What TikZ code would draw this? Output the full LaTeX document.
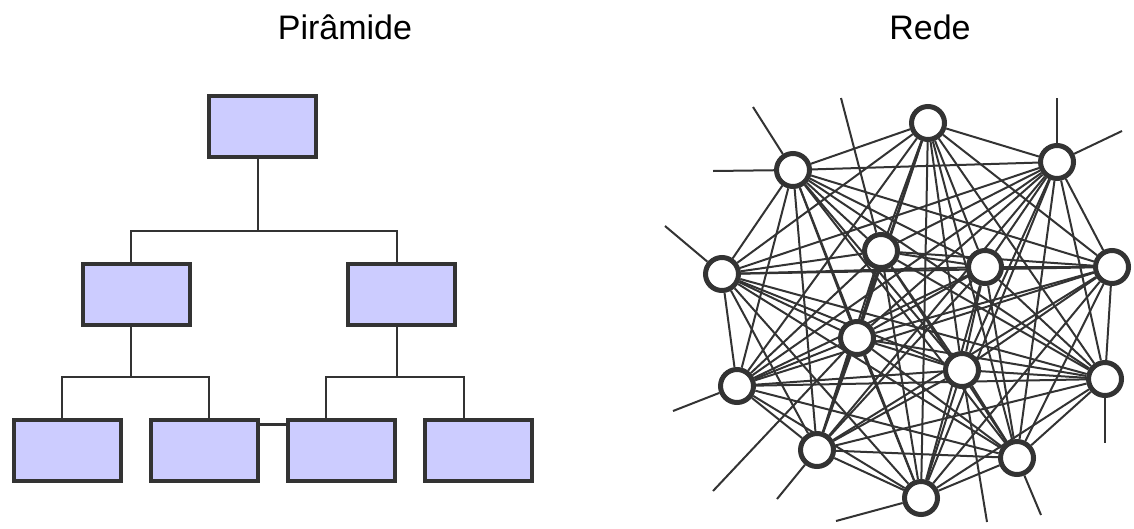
\documentclass[tikz,border=0pt]{standalone}
\usepackage{fontspec}
\setmainfont{Liberation Sans}
\usetikzlibrary{backgrounds}
\definecolor{dk}{HTML}{333333}
\definecolor{boxfill}{HTML}{CCCCFF}
\begin{document}
\begin{tikzpicture}[x=1pt,y=-1pt,
  box/.style={draw=dk,fill=boxfill,line width=4pt,minimum width=107pt,minimum height=61pt,inner sep=0pt},
  conn/.style={draw=dk,line width=2pt},
  bar/.style={draw=dk,line width=3pt},
  hub/.style={circle,draw=dk,fill=white,line width=5pt,minimum size=33pt,inner sep=0pt},
  link/.style={draw=dk,line width=2pt},
  title/.style={font=\fontsize{34}{40}\selectfont,anchor=base}]
\useasboundingbox (0,0) rectangle (1134,528);

% titles
\node[title] (t1) at (345,39) {Pirâmide};
\node[title] (t2) at (930,39) {Rede};

% pyramid
\node[box] (p0) at (262.5,126.5) {};
\node[box] (p1) at (136,294) {};
\node[box] (p2) at (401.5,294) {};
\node[box] (q1) at (67,450.5) {};
\node[box] (q2) at (204,450.5) {};
\node[box] (q3) at (341.5,450.5) {};
\node[box] (q4) at (478.5,450.5) {};
\coordinate (j0) at (258,231);
\coordinate (j1) at (131,377);
\coordinate (j2) at (397,377);
\draw[conn] (p0.south -| j0) -- (j0);
\draw[conn] (p1.north -| j1) -- (j0 -| j1) -- (j0 -| j2) -- (p2.north -| j2);
\draw[conn] (p1.south -| j1) -- (j1);
\draw[conn] (p2.south -| j2) -- (j2);
\draw[conn] ([xshift=-5pt]q1.north) -- ([xshift=-5pt]q1.north |- j1) -- ([xshift=5pt]q2.north |- j1) -- ([xshift=5pt]q2.north);
\draw[conn] ([xshift=-15.5pt]q3.north) -- ([xshift=-15.5pt]q3.north |- j2) -- ([xshift=-14.5pt]q4.north |- j2) -- ([xshift=-14.5pt]q4.north);
\draw[bar] ([yshift=26.5pt]q2.east) -- ([yshift=26.5pt]q3.west);

% network
\node[hub] (a) at (928,123) {};
\node[hub] (b) at (793,170) {};
\node[hub] (c) at (1057,162) {};
\node[hub] (d) at (722,274) {};
\node[hub] (e) at (881,251) {};
\node[hub] (f) at (985,267) {};
\node[hub] (g) at (1112,267) {};
\node[hub] (h) at (857,338) {};
\node[hub] (i) at (962,370) {};
\node[hub] (j) at (737,386) {};
\node[hub] (k) at (1105,379) {};
\node[hub] (l) at (817,450) {};
\node[hub] (m) at (1017,458) {};
\node[hub] (n) at (921,498) {};

\coordinate (sb1) at (713,171);
\coordinate (sb2) at (753,107);
\coordinate (se) at (841,98);
\coordinate (sc1) at (1057,98);
\coordinate (sc2) at (1122,131);
\coordinate (sd) at (665,226);
\coordinate (sj) at (673,411);
\coordinate (sh) at (713,491);
\coordinate (sl) at (777,499);
\coordinate (sn) at (836,521);
\coordinate (si) at (987,522);
\coordinate (sm) at (1041,515);
\coordinate (sk) at (1105,443);

\begin{scope}[on background layer]
\foreach \u [count=\ii] in {a,...,n}{
  \foreach \v [count=\jj] in {a,...,n}{
    \ifnum\jj>\ii \draw[link] (\u) -- (\v); \fi
  }
}
\draw[link] (b) -- (sb1);
\draw[link] (b) -- (sb2);
\draw[link] (e) -- (se);
\draw[link] (c) -- (sc1);
\draw[link] (c) -- (sc2);
\draw[link] (d) -- (sd);
\draw[link] (j) -- (sj);
\draw[link] (h) -- (sh);
\draw[link] (l) -- (sl);
\draw[link] (n) -- (sn);
\draw[link] (i) -- (si);
\draw[link] (m) -- (sm);
\draw[link] (k) -- (sk);
\end{scope}
\end{tikzpicture}
\end{document}
